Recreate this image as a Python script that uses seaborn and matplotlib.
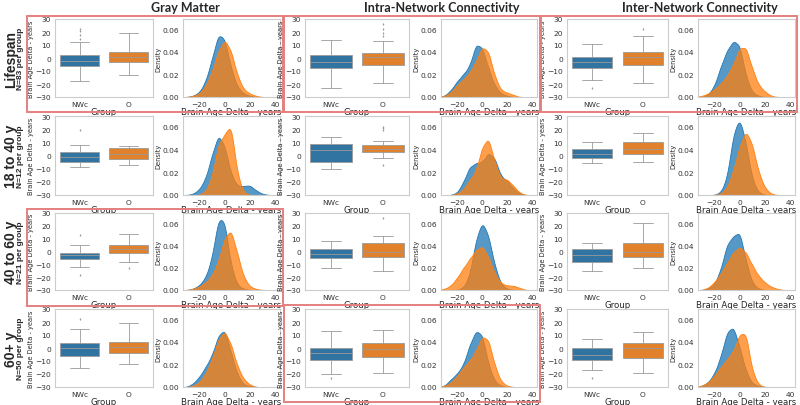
import numpy as np
import matplotlib
matplotlib.use("Agg")
import matplotlib.pyplot as plt
from matplotlib.patches import Rectangle
import seaborn as sns

measures = ["Gray Matter", "Intra-Network Connectivity", "Inter-Network Connectivity"]
cohorts = ["Lifespan", "18 to 40 y", "40 to 60 y", "60+ y"]
n_per_group = [83, 12, 21, 50]
groups = ["NWc", "O"]

# box summaries: (low whisker, q1, median, q3, high whisker)
nwc_box = [
    [(-18, -6, -2, 2, 12), (-23, -8, -3, 2, 14), (-17, -8, -3, 1, 11)],
    [(-9, -5, -1, 3, 8), (-10, -5, 4, 9, 14), (-6, -2, 1, 5, 10)],
    [(-12, -6, -3, -1, 5), (-13, -5, -2, 2, 8), (-15, -8, -3, 2, 7)],
    [(-15, -6, 0, 4, 15), (-20, -9, -4, 0, 13), (-17, -9, -5, 0, 7)],
]
o_box = [
    [(-13, -3, 1, 5, 19), (-19, -5, 1, 4, 13), (-19, -5, 1, 5, 17)],
    [(-7, -3, 1, 6, 7), (-2, 3, 5, 8, 11), (-5, 1, 5, 10, 17)],
    [(-8, -1, 2, 5, 14), (-15, -4, 0, 7, 12), (-13, -4, 0, 7, 22)],
    [(-12, -4, 1, 5, 19), (-19, -7, -1, 4, 14), (-19, -8, 0, 4, 12)],
]
nwc_fliers = [
    [[15, 18, 21, 22], [], [-23]],
    [[19], [], []],
    [[13, -18], [], []],
    [[22], [-23], [-23]],
]
o_fliers = [
    [[], [17, 19, 22, 26], [22]],
    [[], [-7, 19, 21, 22], []],
    [[-13], [26], []],
    [[], [], []],
]

# density curves at these brain age delta values
delta_grid = [-30, -25, -20, -15, -10, -5, 0, 5, 10, 15, 20, 25, 30, 35, 40]
nwc_density = [
    [[0, .001, .004, .014, .034, .057, .053, .026, .009, .003, .001, 0, 0, 0, 0],
     [.001, .006, .014, .020, .027, .047, .044, .025, .010, .003, .001, 0, 0, 0, 0],
     [0, .002, .010, .028, .043, .052, .049, .019, .004, .001, 0, 0, 0, 0, 0]],
    [[0, .001, .005, .015, .036, .055, .045, .019, .008, .008, .009, .004, .001, 0, 0],
     [0, 0, .002, .012, .026, .029, .030, .039, .034, .017, .013, .006, .001, 0, 0],
     [0, 0, 0, .002, .014, .054, .069, .046, .013, .002, 0, 0, 0, 0, 0]],
    [[0, .001, .004, .011, .028, .065, .063, .021, .004, .001, 0, 0, 0, 0, 0],
     [0, 0, 0, .002, .013, .046, .063, .050, .022, .005, .001, 0, 0, 0, 0],
     [0, .001, .005, .018, .042, .048, .054, .026, .006, .001, 0, 0, 0, 0, 0]],
    [[0, .003, .009, .018, .028, .046, .052, .031, .011, .002, .001, 0, 0, 0, 0],
     [.001, .007, .012, .020, .038, .051, .048, .020, .005, .001, 0, 0, 0, 0, 0],
     [.001, .004, .012, .027, .050, .055, .036, .014, .003, .001, 0, 0, 0, 0, 0]],
]
o_density = [
    [[0, .001, .003, .010, .023, .042, .053, .043, .020, .007, .003, .001, 0, 0, 0],
     [.001, .004, .011, .016, .022, .032, .046, .042, .019, .006, .004, .002, 0, 0, 0],
     [.001, .003, .007, .012, .019, .030, .045, .046, .026, .011, .005, .001, 0, 0, 0]],
    [[0, 0, 0, .003, .015, .046, .052, .065, .018, .002, 0, 0, 0, 0, 0],
     [0, 0, .001, .005, .013, .021, .042, .051, .029, .014, .014, .008, .002, 0, 0],
     [0, 0, 0, .001, .006, .021, .043, .057, .045, .020, .006, .001, 0, 0, 0]],
    [[0, .001, .003, .007, .013, .026, .048, .056, .034, .012, .003, .001, 0, 0, 0],
     [.001, .004, .011, .020, .028, .036, .040, .030, .015, .006, .004, .004, .002, 0, 0],
     [0, .002, .007, .015, .025, .035, .040, .035, .023, .013, .007, .003, .001, 0, 0]],
    [[0, .001, .004, .012, .025, .043, .051, .039, .019, .007, .002, 0, 0, 0, 0],
     [.001, .004, .010, .018, .024, .033, .047, .044, .020, .005, .001, 0, 0, 0, 0],
     [.001, .004, .010, .018, .025, .032, .048, .050, .014, .002, 0, 0, 0, 0, 0]],
]

# (row, column) cells framed in red
highlight = [(0, 0), (0, 1), (0, 2), (2, 0), (3, 1)]

W, H = 800, 406
box_cols = [(55, 153), (305, 409), (567, 668)]
kde_cols = [(183, 280), (441, 537), (698, 795)]
rows = [(20, 98), (117, 196), (214, 291), (310, 388)]
frame_cols = [(27, 283), (284, 540), (541, 797)]
frame_rows = [(17, 113), (113, 210), (210, 307), (306, 403)]
title_x = [185, 442, 700]

box_colors = ["#3274a1", "#e1812c"]
kde_colors = ["#1f77b4", "#ff7f0e"]
line_gray = "#9a9a9a"


def px_rect(x0, x1, y0, y1):
    return [x0 / W, 1 - y1 / H, (x1 - x0) / W, (y1 - y0) / H]


def style_axes(ax):
    for s in ax.spines.values():
        s.set_color("#cccccc")
        s.set_linewidth(0.8)
    ax.tick_params(labelsize=5.4, pad=0.8, length=2, width=0.5, colors="#333333")
    ax.grid(False)


def draw_box(ax, i, j):
    stats = []
    for name, b, fl in zip(groups, [nwc_box[i][j], o_box[i][j]],
                           [nwc_fliers[i][j], o_fliers[i][j]]):
        lo, q1, med, q3, hi = b
        stats.append(dict(label=name, whislo=lo, q1=q1, med=med, q3=q3,
                          whishi=hi, fliers=fl))
    lp = dict(color=line_gray, linewidth=0.6)
    bp = ax.bxp(stats, positions=[0, 1], widths=0.8, capwidths=0.4,
                patch_artist=True,
                boxprops=dict(linewidth=0.6, edgecolor=line_gray),
                whiskerprops=lp, capprops=lp, medianprops=lp,
                flierprops=dict(marker="d", markersize=1.5,
                                markerfacecolor=line_gray,
                                markeredgecolor="none"))
    for patch, c in zip(bp["boxes"], box_colors):
        patch.set_facecolor(c)
    ax.set_xlim(-0.5, 1.5)
    ax.set_ylim(-30, 30)
    ax.set_yticks([-30, -20, -10, 0, 10, 20, 30])
    ax.set_xlabel("Group", fontsize=6.2, labelpad=0)
    ax.set_ylabel("Brain Age Delta - years", fontsize=4.8, labelpad=0.8)
    style_axes(ax)


def draw_kde(ax, i, j):
    for dens, c in zip([nwc_density[i][j], o_density[i][j]], kde_colors):
        x = np.array(delta_grid, float)
        w = np.array(dens, float)
        keep = w > 0
        x, w = x[keep], w[keep]
        sd = np.sqrt(np.average((x - np.average(x, weights=w)) ** 2, weights=w))
        sns.kdeplot(x=x, weights=w, bw_method=2.5 / sd, fill=True, color=c,
                    alpha=0.75, linewidth=0.6, ax=ax)
    ax.set_xlim(-33, 44)
    ax.set_ylim(0, 0.069)
    ax.set_xticks([-20, 0, 20, 40])
    ax.set_yticks([0, 0.02, 0.04, 0.06])
    ax.set_xlabel("Brain Age Delta - years", fontsize=6.2, labelpad=0)
    ax.set_ylabel("Density", fontsize=4.8, labelpad=0.8)
    style_axes(ax)


sns.set_style("whitegrid", {"axes.grid": False, "axes.edgecolor": ".8"})
plt.rcParams["font.family"] = ["DejaVu Sans"]

fig = plt.figure(figsize=(W / 100, H / 100), dpi=100)

for i in range(len(cohorts)):
    t, b = rows[i]
    for j in range(len(measures)):
        ax_box = fig.add_axes(px_rect(box_cols[j][0], box_cols[j][1], t, b))
        draw_box(ax_box, i, j)
        ax_kde = fig.add_axes(px_rect(kde_cols[j][0], kde_cols[j][1], t, b))
        draw_kde(ax_kde, i, j)

    yc = 1 - (t + b) / 2 / H
    fig.text(11 / W, yc, cohorts[i], rotation=90, ha="center", va="center",
             fontsize=10, fontweight="bold", family=["Liberation Sans", "DejaVu Sans"])
    fig.text(21 / W, yc, f"N={n_per_group[i]} per group", rotation=90,
             ha="center", va="center", fontsize=6, fontweight="bold",
             family=["Liberation Sans", "DejaVu Sans"])

for j, name in enumerate(measures):
    fig.text(title_x[j] / W, 1 - 8.5 / H, name, ha="center", va="center",
             fontsize=9, fontweight="bold", family=["Lato", "DejaVu Sans"])

for i, j in highlight:
    x0, x1 = frame_cols[j]
    y0, y1 = frame_rows[i]
    fig.patches.append(Rectangle((x0 / W, 1 - y1 / H), (x1 - x0) / W, (y1 - y0) / H,
                                 transform=fig.transFigure, fill=False,
                                 edgecolor="#e58080", linewidth=1.4, zorder=10))

fig.savefig("out.png", dpi=100)
